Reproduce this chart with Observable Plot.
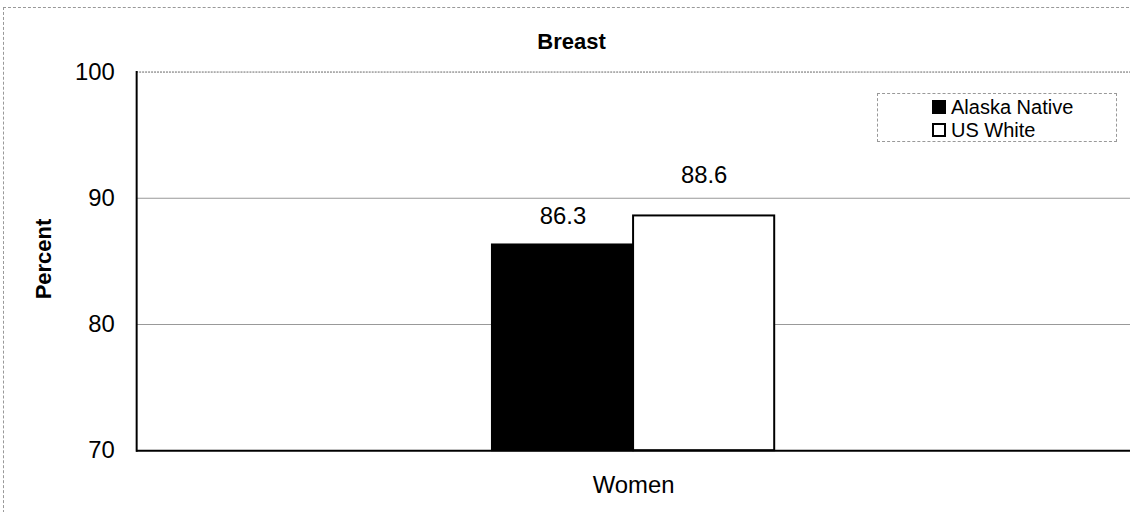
<!DOCTYPE html>
<html><head><meta charset="utf-8">
<script src="https://cdn.jsdelivr.net/npm/d3@7"></script>
<script src="https://cdn.jsdelivr.net/npm/@observablehq/plot@0.6"></script>
<style>
body{margin:0;background:#fff;font-family:"Liberation Sans",Arial,sans-serif;}
#wrap{position:relative;width:1130px;height:512px;overflow:hidden;}
#border{position:absolute;left:3px;top:7px;width:1140px;height:520px;border-top:1px dashed #999;border-left:1px dashed #999;}
#title{position:absolute;top:29px;left:3px;width:1137px;text-align:center;font-weight:bold;font-size:22px;line-height:26px;}
#ylab{position:absolute;left:44px;top:259px;transform:translate(-50%,-50%) rotate(-90deg);font-weight:bold;font-size:22px;white-space:nowrap;}
#legend{position:absolute;left:877px;top:93px;width:238px;height:47px;border:1px dashed #999;font-size:20px;line-height:20px;}
#legend .row{position:absolute;left:54px;display:flex;align-items:center;}
#legend .sw{width:14px;height:14px;border:2px solid #000;margin-right:5px;box-sizing:border-box;}
#chart{position:absolute;left:0;top:0;}
</style>
</head><body>
<div id="wrap">
<div id="border"></div>
<div id="chart"></div>
<div id="title"></div>
<div id="ylab"></div>
<div id="legend"></div>
</div>
<script>
const title = "Breast";
const yLabel = "Percent";
const categories = ["Women"];
const series = ["Alaska Native", "US White"];
const values = [86.3, 88.6];
const colors = ["#000000", "#ffffff"];
const yTicks = [70, 80, 90, 100];

const data = series.map((s, i) => ({category: categories[0], series: s, value: values[i]}));
const yMin = yTicks[0], yMax = yTicks[yTicks.length - 1];

document.getElementById("title").textContent = title;
document.getElementById("ylab").textContent = yLabel;
const leg = document.getElementById("legend");
series.forEach((s, i) => {
  const row = document.createElement("div");
  row.className = "row";
  row.style.top = (3 + i * 23) + "px";
  row.innerHTML = `<span class="sw" style="background:${colors[i]}"></span><span>${s}</span>`;
  leg.appendChild(row);
});

const chart = Plot.plot({
  width: 1137, height: 512,
  marginLeft: 137, marginRight: 0, marginTop: 72, marginBottom: 59,
  style: {fontFamily: "Liberation Sans, Arial, sans-serif", fontSize: "24px", background: "transparent", color: "#000", overflow: "visible"},
  y: {domain: [yMin, yMax], label: null},
  x: {domain: series, paddingInner: 0, paddingOuter: 2.5, axis: null},
  fx: {domain: categories, padding: 0, label: null, axis: null},
  color: {domain: series, range: colors},
  marks: [
    Plot.gridY(yTicks.slice(1, -1), {stroke: "#999", strokeOpacity: 1, strokeWidth: 1.2}),
    Plot.gridY(yTicks.slice(-1), {stroke: "#666", strokeOpacity: 1, strokeWidth: 1, strokeDasharray: "2,1"}),
    Plot.barY(data, {fx: "category", x: "series", y1: () => yMin, y2: "value", fill: "series", stroke: "#000", strokeWidth: 2}),
    Plot.text(data.filter(d => d.series === series[0]), {fx: "category", x: "series", y: "value", text: d => d.value.toFixed(1), dy: -29, fontSize: 24}),
    Plot.text(data.filter(d => d.series === series[1]), {fx: "category", x: "series", y: "value", text: d => d.value.toFixed(1), dy: -41, fontSize: 24}),
    Plot.ruleY([yMin], {stroke: "#000", strokeWidth: 2}),
    Plot.frame({anchor: "left", stroke: "#000", strokeWidth: 2}),
    Plot.axisY({ticks: yTicks, tickSize: 0, tickPadding: 22, fontSize: 24, label: null}),
    Plot.axisFx({anchor: "bottom", tickSize: 0, tickPadding: 26, fontSize: 24, label: null})
  ]
});
document.getElementById("chart").appendChild(chart);
</script>
</body></html>
